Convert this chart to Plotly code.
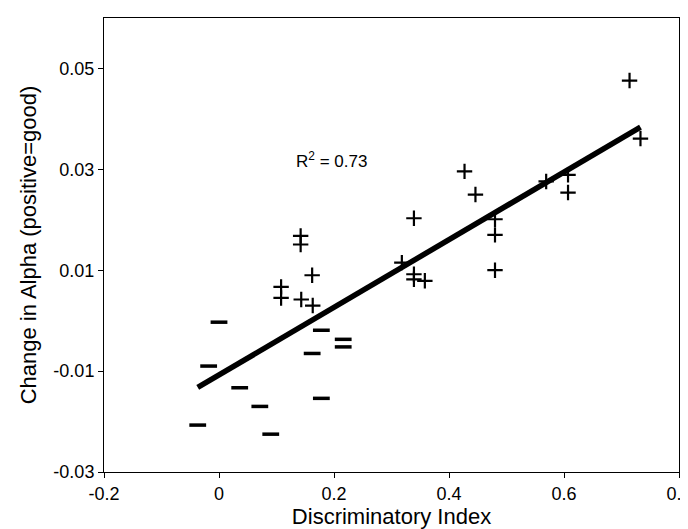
import numpy as np
import plotly.graph_objects as go

# Discriminatory index vs change in alpha
x_pos = [0.714, 0.733, 0.427, 0.446, 0.339, 0.569, 0.607, 0.607, 0.480, 0.480, 0.480,
         0.318, 0.339, 0.339, 0.358, 0.142, 0.142, 0.162, 0.108, 0.108, 0.143, 0.163]
y_pos = [0.0476, 0.0361, 0.0296, 0.0250, 0.0203, 0.0276, 0.0289, 0.0254, 0.0201, 0.0170, 0.0100,
         0.0115, 0.0092, 0.0082, 0.0079, 0.0168, 0.0151, 0.0090, 0.0067, 0.0045, 0.0042, 0.0030]

x_neg = [0.000, -0.018, 0.036, 0.071, -0.037, 0.090, 0.178, 0.162, 0.216, 0.216, 0.178]
y_neg = [-0.0003, -0.0090, -0.0133, -0.0170, -0.0207, -0.0225, -0.0019, -0.0065, -0.0037, -0.0052, -0.0154]

x_ticks = [-0.2, 0, 0.2, 0.4, 0.6, 0.8]
y_ticks = [-0.03, -0.01, 0.01, 0.03, 0.05]
y_tick_text = ["-0.03", "-0.01", "0.01", "0.03", "0.05"]
r2_label = "R<sup>2</sup> = 0.73"

all_x = np.array(x_pos + x_neg)
all_y = np.array(y_pos + y_neg)
slope, intercept = np.polyfit(all_x, all_y, 1)
fit_x = [all_x.min(), all_x.max()]
fit_y = [slope * v + intercept for v in fit_x]

FONT = "Liberation Sans, Arial, Helvetica, sans-serif"

fig = go.Figure()
fig.add_trace(go.Scatter(x=fit_x, y=fit_y, mode="lines",
                         line=dict(color="black", width=5.5), showlegend=False))
fig.add_trace(go.Scatter(x=x_pos, y=y_pos, mode="markers",
                         marker=dict(symbol="cross-thin", size=11,
                                     line=dict(color="black", width=2.2)),
                         showlegend=False))
fig.add_trace(go.Scatter(x=x_neg, y=y_neg, mode="markers",
                         marker=dict(symbol="line-ew", size=12,
                                     line=dict(color="black", width=3.5)),
                         showlegend=False))

fig.add_annotation(x=0.195, y=0.0319, text=r2_label, showarrow=False,
                   font=dict(family=FONT, size=17, color="black"), xanchor="center", yanchor="middle")

tick_font = dict(family=FONT, size=18, color="black")
title_font = dict(family=FONT, size=22, color="black")
fig.update_xaxes(range=[-0.2, 0.8], tickvals=x_ticks, ticktext=[str(t) for t in x_ticks],
                 showgrid=False, zeroline=False, showline=True, linecolor="black", linewidth=1,
                 mirror=True, ticks="outside", ticklen=5, tickcolor="black",
                 tickfont=tick_font, automargin=False,
                 title=dict(text="Discriminatory Index", font=title_font, standoff=6))
fig.update_yaxes(range=[-0.03, 0.06], tickvals=y_ticks, ticktext=y_tick_text,
                 showgrid=False, zeroline=False, showline=True, linecolor="black", linewidth=1,
                 mirror=True, ticks="outside", ticklen=5, tickcolor="black",
                 tickfont=tick_font, automargin=False,
                 title=dict(text="Change in Alpha (positive=good)", font=title_font, standoff=10))
fig.update_layout(width=688, height=529, plot_bgcolor="white", paper_bgcolor="white",
                  margin=dict(l=96, r=17, t=10, b=65),
                  font=dict(family=FONT, color="black"))
fig.write_html("out.html")
